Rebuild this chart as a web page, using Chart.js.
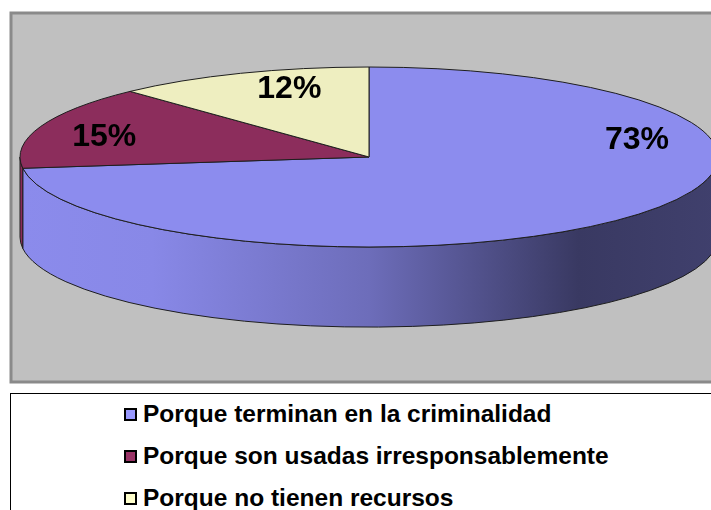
<!DOCTYPE html>
<html>
<head>
<meta charset="utf-8">
<script src="https://cdn.jsdelivr.net/npm/chart.js@4.4.0/dist/chart.umd.min.js"></script>
<style>
    body { margin: 0; background: #fff; }
    #wrap { position: relative; width: 711px; height: 510px; overflow: hidden; }
    #plot { position: absolute; left: 0; top: 0; width: 730px; height: 510px; }
    #legend {
        position: absolute; left: 10px; top: 393px; width: 730px; height: 140px;
        border: 1px solid #000; box-sizing: border-box; background: #fff;
    }
    #legend ul { list-style: none; margin: 0; padding: 0; position: absolute; left: 113px; top: -1px; }
    #legend li {
        display: flex; align-items: center; height: 42px;
        font: bold 24.5px "Liberation Sans", Arial, sans-serif; color: #000; white-space: nowrap;
    }
    #legend .box { width: 9px; height: 9px; border: 2px solid #000; margin-right: 6px; }
</style>
</head>
<body>
<div id="wrap">
    <div id="plot"><canvas id="chart"></canvas></div>
    <div id="legend"></div>
</div>
<script>
// ===== DATA =====
const categories = [
    'Porque terminan en la criminalidad',
    'Porque son usadas irresponsablemente',
    'Porque no tienen recursos'
];
const values = [73, 15, 12];
const valueLabels = ['73%', '15%', '12%'];

// legend swatches and shaded top faces
const legendColors = ['#9999FF', '#993366', '#FFFFCC'];
const topColors = ['#8C8CEE', '#8C2D5C', '#EEEEC0'];
// small angle nudges (degrees) so labels sit where Excel put them
const labelNudge = [-55, -3.6, 4.8];

function shade(hex, f) {
    const n = parseInt(hex.slice(1), 16);
    const r = Math.round(((n >> 16) & 255) * f);
    const g = Math.round(((n >> 8) & 255) * f);
    const b = Math.round((n & 255) * f);
    return `rgb(${r},${g},${b})`;
}

// ===== 3D PIE PLUGIN =====
const pie3d = {
    id: 'pie3d',
    beforeDraw(chart) {
        const ctx = chart.ctx;
        ctx.save();
        ctx.fillStyle = '#C0C0C0';
        ctx.fillRect(11, 13, 730, 369);
        ctx.strokeStyle = '#8A8A8A';
        ctx.lineWidth = 3;
        ctx.strokeRect(11, 13, 730, 369);
        ctx.restore();
    },
    beforeDatasetsDraw(chart) {
        const ctx = chart.ctx;
        const area = chart.chartArea;
        const arcs = chart.getDatasetMeta(0).data;
        const cx = arcs[0].x, cy = arcs[0].y;
        const ry = arcs[0].outerRadius;
        const rx = ry * (area.right - area.left) / (area.bottom - area.top);
        const depth = ry * 0.89;

        ctx.save();
        ctx.lineWidth = 1;
        ctx.strokeStyle = '#1E1E1E';

        // side walls, only the front half (0..PI) is visible
        arcs.forEach((arc, i) => {
            const s = Math.max(arc.startAngle, 0);
            const e = Math.min(arc.endAngle, Math.PI);
            if (s >= e) return;
            const grad = ctx.createLinearGradient(cx - rx, 0, cx + rx, 0);
            grad.addColorStop(0, shade(topColors[i], 0.99));
            grad.addColorStop(0.19, shade(topColors[i], 0.97));
            grad.addColorStop(0.5, shade(topColors[i], 0.78));
            grad.addColorStop(0.8, shade(topColors[i], 0.41));
            grad.addColorStop(1, shade(topColors[i], 0.46));
            ctx.beginPath();
            ctx.ellipse(cx, cy, rx, ry, 0, s, e);
            ctx.lineTo(cx + rx * Math.cos(e), cy + depth + ry * Math.sin(e));
            ctx.ellipse(cx, cy + depth, rx, ry, 0, e, s, true);
            ctx.closePath();
            ctx.fillStyle = grad;
            ctx.fill();
            ctx.stroke();
        });

        // top faces
        arcs.forEach((arc, i) => {
            ctx.beginPath();
            ctx.moveTo(cx, cy);
            ctx.ellipse(cx, cy, rx, ry, 0, arc.startAngle, arc.endAngle);
            ctx.closePath();
            ctx.fillStyle = topColors[i];
            ctx.fill();
            ctx.stroke();
        });

        ctx.restore();
        return false;
    },
    afterDraw(chart) {
        const ctx = chart.ctx;
        const area = chart.chartArea;
        const arcs = chart.getDatasetMeta(0).data;
        ctx.save();
        ctx.fillStyle = '#000';
        ctx.font = 'bold 32px "Liberation Sans", Arial, sans-serif';
        ctx.textAlign = 'center';
        ctx.textBaseline = 'middle';
        arcs.forEach((arc, i) => {
            const ry = arc.outerRadius;
            const rx = ry * (area.right - area.left) / (area.bottom - area.top);
            const mid = (arc.startAngle + arc.endAngle) / 2 + labelNudge[i] * Math.PI / 180;
            const x = arc.x + 0.79 * rx * Math.cos(mid);
            const y = arc.y + 0.79 * ry * Math.sin(mid);
            ctx.fillText(valueLabels[i], x, y);
        });
        ctx.restore();
    }
};

// ===== CHART =====
const chart = new Chart(document.getElementById('chart'), {
    type: 'pie',
    data: {
        labels: categories,
        datasets: [{
            data: values,
            backgroundColor: legendColors,
            borderWidth: 0
        }]
    },
    options: {
        responsive: true,
        maintainAspectRatio: false,
        animation: false,
        events: [],
        layout: {
            padding: { top: 67, bottom: 263, left: 20, right: 12 }
        },
        plugins: {
            legend: { display: false },
            tooltip: { enabled: false }
        }
    },
    plugins: [pie3d]
});

// ===== HTML LEGEND =====
function buildLegend(chart) {
    const items = chart.options.plugins.legend.labels.generateLabels(chart);
    const ul = document.createElement('ul');
    items.forEach(item => {
        const li = document.createElement('li');
        li.innerHTML = `<span class="box" style="background:${item.fillStyle}"></span><span>${item.text}</span>`;
        ul.appendChild(li);
    });
    document.getElementById('legend').appendChild(ul);
}
buildLegend(chart);
</script>
</body>
</html>
